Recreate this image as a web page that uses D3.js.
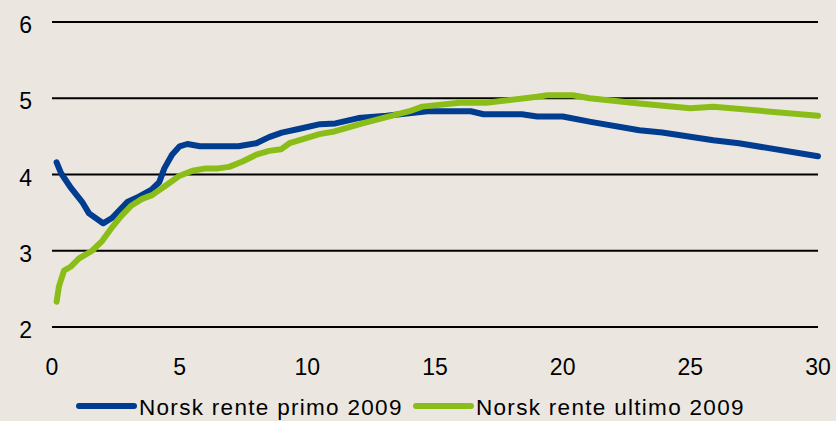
<!DOCTYPE html>
<html>
<head>
<meta charset="utf-8">
<script src="https://cdn.jsdelivr.net/npm/d3@7"></script>
<style>
  html, body { margin: 0; padding: 0; background: #ebe7e0; }
  svg { display: block; font-family: "Liberation Sans", Arial, sans-serif; }
</style>
</head>
<body>
<figure id="rente" style="margin:0"></figure>
<script>
// Maturity (years) and yield (%)
const primoX = [0.18, 0.35, 0.75, 1.2, 1.45, 2.0, 2.35, 2.95, 3.4, 3.9, 4.2, 4.4, 4.7, 5.0, 5.3, 5.8, 7.3, 8.0, 8.5, 9.0, 9.7, 10.5, 11.1, 12.0, 13.1, 13.9, 14.7, 16.4, 16.9, 18.4, 19.0, 20.0, 21.1, 23.0, 23.9, 25.9, 26.9, 30.0];
const primoY = [4.16, 4.02, 3.82, 3.63, 3.49, 3.36, 3.43, 3.64, 3.71, 3.80, 3.90, 4.08, 4.26, 4.37, 4.40, 4.37, 4.37, 4.41, 4.49, 4.55, 4.60, 4.66, 4.67, 4.74, 4.77, 4.80, 4.83, 4.83, 4.79, 4.79, 4.76, 4.76, 4.69, 4.58, 4.55, 4.45, 4.41, 4.24];

const ultimoX = [0.18, 0.27, 0.47, 0.73, 1.06, 1.57, 1.97, 2.36, 2.7, 3.1, 3.53, 3.92, 4.47, 4.98, 5.5, 6.03, 6.5, 6.94, 7.46, 8.0, 8.5, 8.97, 9.3, 9.7, 10.47, 11.0, 12.16, 14.0, 14.5, 15.96, 17.0, 19.0, 19.4, 20.4, 21.06, 23.0, 25.0, 25.9, 30.0];
const ultimoY = [2.33, 2.53, 2.74, 2.79, 2.90, 3.00, 3.13, 3.31, 3.45, 3.59, 3.68, 3.73, 3.86, 3.98, 4.05, 4.08, 4.08, 4.10, 4.17, 4.26, 4.31, 4.33, 4.41, 4.45, 4.53, 4.56, 4.67, 4.83, 4.89, 4.94, 4.94, 5.02, 5.04, 5.04, 5.00, 4.93, 4.87, 4.89, 4.77];

const xTicks = [0, 5, 10, 15, 20, 25, 30];
const yTicks = [2, 3, 4, 5, 6];

const seriesNames = ["Norsk rente primo 2009", "Norsk rente ultimo 2009"];
const seriesColors = ["#003c8f", "#8bbd18"];

const width = 836, height = 421;

const svg = d3.select("figure#rente")
  .append("svg")
  .attr("width", width)
  .attr("height", height);

svg.append("rect").attr("width", width).attr("height", height).attr("fill", "#ebe7e0");

const x = d3.scaleLinear().domain([0, 30]).range([52, 818]);
const y = d3.scaleLinear().domain([2, 6]).range([327, 22]);

// Horizontal gridlines
svg.append("g")
  .selectAll("line")
  .data(yTicks)
  .join("line")
  .attr("x1", x(0))
  .attr("x2", x(30))
  .attr("y1", d => y(d))
  .attr("y2", d => y(d))
  .attr("stroke", "#000")
  .attr("stroke-width", 2);

// Y labels
svg.append("g")
  .selectAll("text")
  .data(yTicks)
  .join("text")
  .attr("x", 32)
  .attr("y", d => y(d) + 11)
  .attr("text-anchor", "end")
  .attr("font-size", 23)
  .attr("fill", "#000")
  .text(d => d);

// X labels
svg.append("g")
  .selectAll("text")
  .data(xTicks)
  .join("text")
  .attr("x", d => x(d))
  .attr("y", 375)
  .attr("text-anchor", "middle")
  .attr("font-size", 23)
  .attr("fill", "#000")
  .text(d => d);

const line = d3.line()
  .x(d => x(d[0]))
  .y(d => y(d[1]));

const series = [
  d3.zip(primoX, primoY),
  d3.zip(ultimoX, ultimoY)
];

svg.append("g")
  .selectAll("path")
  .data(series)
  .join("path")
  .attr("d", line)
  .attr("fill", "none")
  .attr("stroke", (d, i) => seriesColors[i])
  .attr("stroke-width", 6)
  .attr("stroke-linecap", "round")
  .attr("stroke-linejoin", "round");

// Legend
const legendX = [79, 416];
const legend = svg.append("g")
  .selectAll("g")
  .data(seriesNames)
  .join("g")
  .attr("transform", (d, i) => `translate(${legendX[i]},406)`);

legend.append("line")
  .attr("x1", 0).attr("x2", 55)
  .attr("y1", 0).attr("y2", 0)
  .attr("stroke", (d, i) => seriesColors[i])
  .attr("stroke-width", 6)
  .attr("stroke-linecap", "round");

legend.append("text")
  .attr("x", 60)
  .attr("y", 9)
  .attr("font-size", 22.5)
  .attr("letter-spacing", 1.3)
  .attr("fill", "#000")
  .text(d => d);
</script>
</body>
</html>
